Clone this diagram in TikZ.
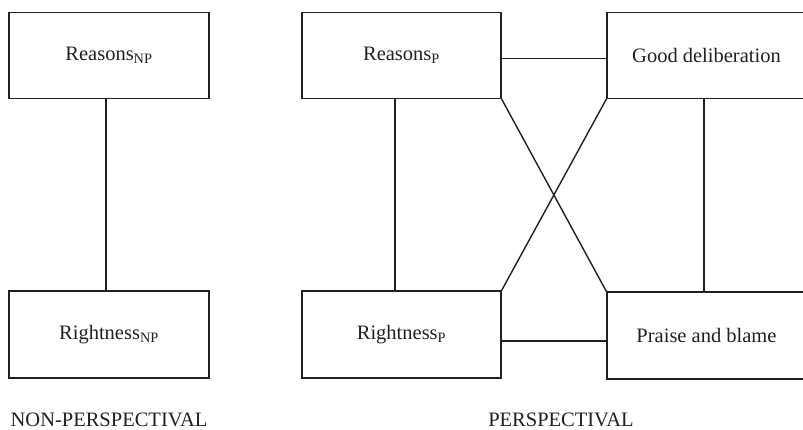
\documentclass[tikz,border=0pt]{standalone}
\usepackage{fontspec}
\setmainfont{Liberation Serif}
\definecolor{ink}{HTML}{231F20}
\begin{document}
\begin{tikzpicture}[x=1pt,y=-1pt,
  every node/.style={font=\fontsize{20.5}{24}\selectfont, text=ink},
  box/.style={draw=ink, line width=1.4pt, rectangle, inner sep=0pt,
              minimum width=199pt, minimum height=86pt},
  link/.style={draw=ink, line width=1.4pt},
  caption/.style={inner sep=0pt}]
  \useasboundingbox (0,0) rectangle (803,429);
  \clip (0,0) rectangle (803,429);

  % non-perspectival pair
  \node[box, minimum width=200pt] (rnp) at (109,55.5) {Reasons\textsubscript{NP}};
  \node[box, minimum width=200pt, minimum height=87pt] (wnp) at (109,334.5) {Rightness\textsubscript{NP}};

  % perspectival square
  \node[box] (rp) at (401.5,55.5) {Reasons\textsubscript{P}};
  \node[box] (gd) at (706.5,55.5) {Good deliberation};
  \node[box, minimum height=87pt] (wp) at (401.5,334.5) {Rightness\textsubscript{P}};
  \node[box, minimum height=87pt] (pb) at (706.5,335.5) {Praise and blame};

  % guide coordinates for the straight connectors
  \coordinate (vl) at (106,0);
  \coordinate (vp) at (395,0);
  \coordinate (vg) at (704,0);
  \coordinate (ht) at (0,58.2);
  \coordinate (hb) at (0,341);

  \draw[link] (rnp.south -| vl) -- (wnp.north -| vl);
  \draw[link] (rp.south -| vp) -- (wp.north -| vp);
  \draw[link] (gd.south -| vg) -- (pb.north -| vg);
  \draw[link] (rp.east |- ht) -- (gd.west |- ht);
  \draw[link] (wp.east |- hb) -- (pb.west |- hb);
  \draw[link] (rp.south east) -- (pb.north west);
  \draw[link] (wp.north east) -- (gd.south west);

  % captions
  \node[caption] (cnp) at (109,419.5) {NON-PERSPECTIVAL};
  \node[caption] (cp) at (561,419.5) {PERSPECTIVAL};
\end{tikzpicture}
\end{document}
